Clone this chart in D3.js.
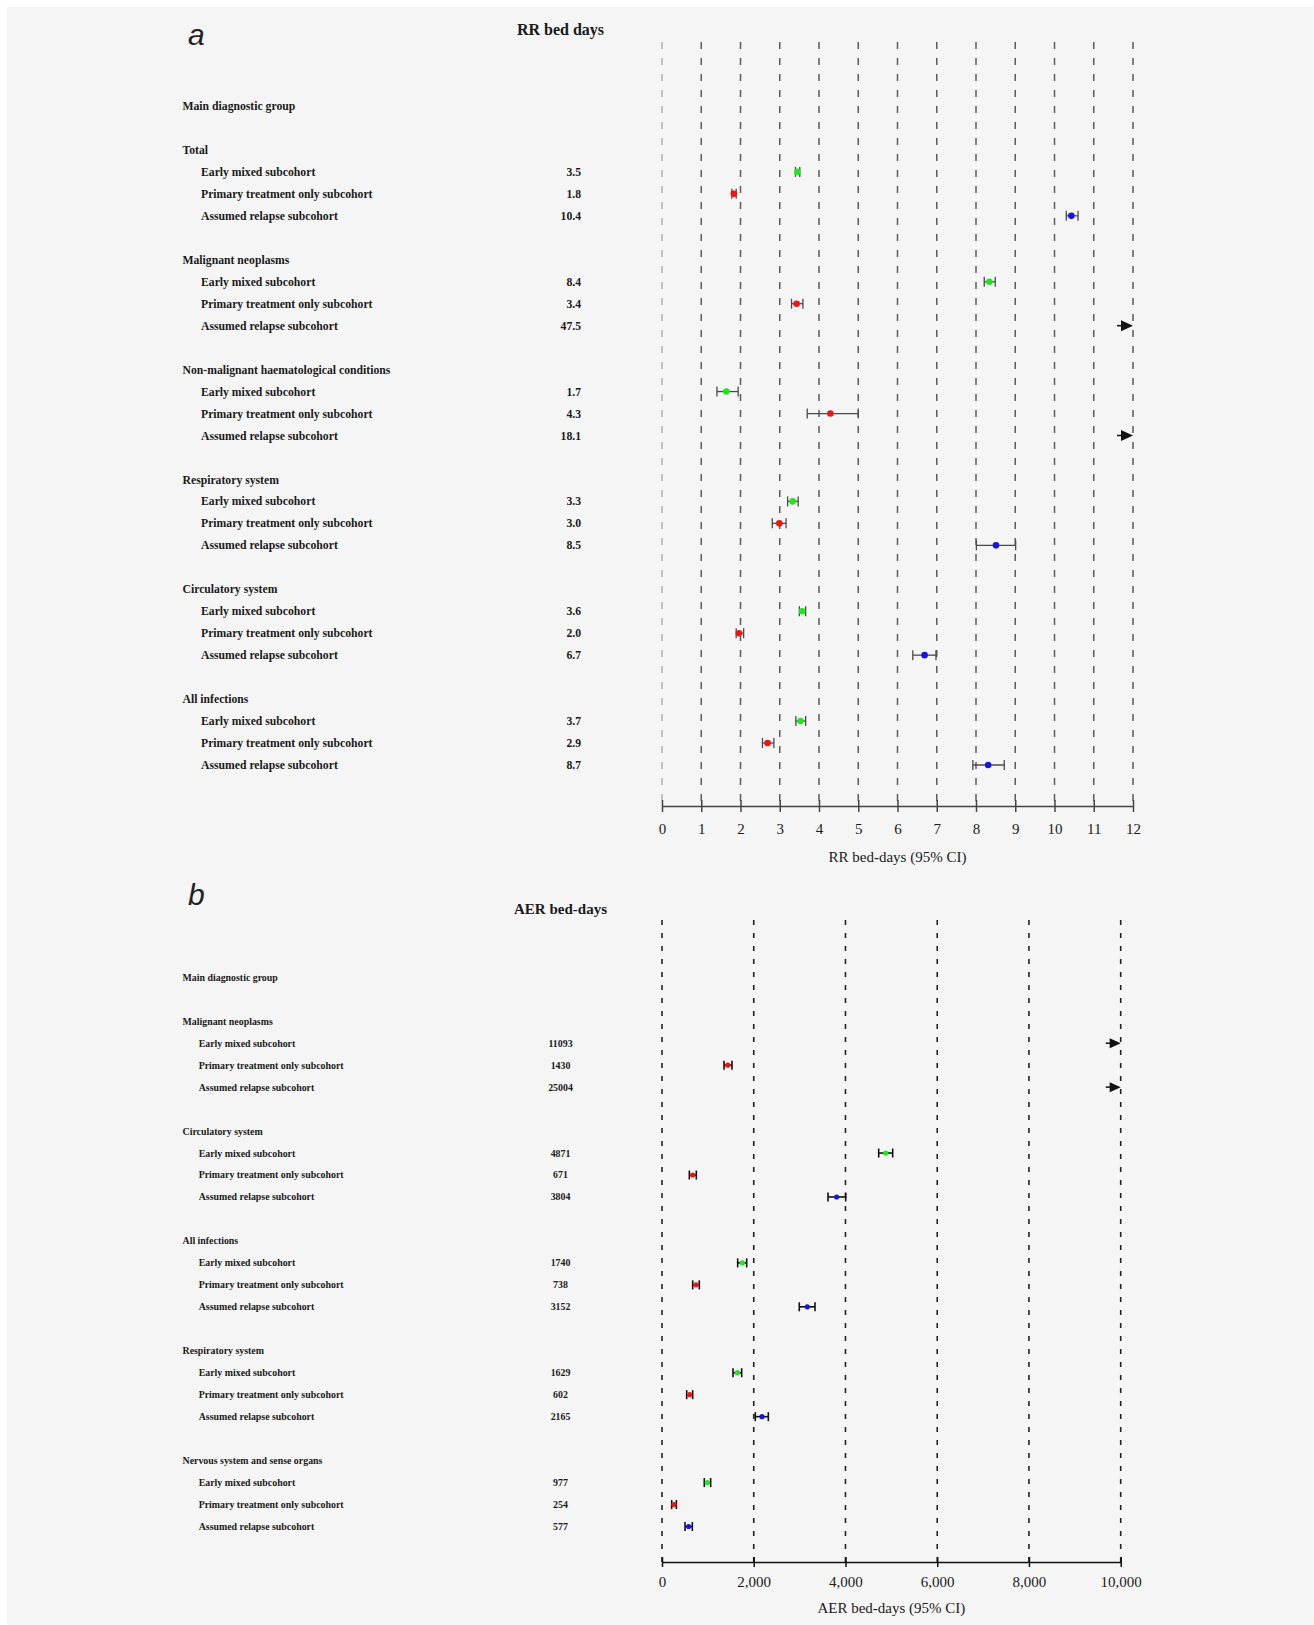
<!DOCTYPE html>
<html>
<head>
<meta charset="utf-8">
<script src="https://cdn.jsdelivr.net/npm/d3@7"></script>
<style>
  body { margin: 0; background: #fff; }
  svg { display: block; }
  text { font-family: "Liberation Serif", "Times New Roman", serif; fill: #1a1a1a; }
</style>
</head>
<body>
<div id="chart"></div>
<script>
// shared row labels / colours
var subcohorts = ["Early mixed subcohort", "Primary treatment only subcohort", "Assumed relapse subcohort"];
var subColors = ["#1fe61f", "#ee1515", "#1515dd"];

// Panel a: RR bed days
var rrGroups = ["Total", "Malignant neoplasms", "Non-malignant haematological conditions",
  "Respiratory system", "Circulatory system", "All infections"];
var rrLabels = [["3.5", "1.8", "10.4"], ["8.4", "3.4", "47.5"], ["1.7", "4.3", "18.1"],
  ["3.3", "3.0", "8.5"], ["3.6", "2.0", "6.7"], ["3.7", "2.9", "8.7"]];
var rrEst = [[3.45, 1.83, 10.43], [8.34, 3.43, 47.5], [1.64, 4.29, 18.1],
  [3.33, 2.99, 8.51], [3.57, 1.96, 6.69], [3.53, 2.69, 8.31]];
var rrLow = [[3.40, 1.78, 10.30], [8.21, 3.30, null], [1.40, 3.70, null],
  [3.20, 2.81, 8.01], [3.50, 1.89, 6.39], [3.41, 2.56, 7.92]];
var rrHigh = [[3.51, 1.89, 10.60], [8.49, 3.59, null], [1.94, 5.00, null],
  [3.47, 3.16, 9.01], [3.66, 2.08, 6.98], [3.66, 2.85, 8.72]];
var rrTicks = d3.range(0, 13);

// Panel b: AER bed-days
var aerGroups = ["Malignant neoplasms", "Circulatory system", "All infections",
  "Respiratory system", "Nervous system and sense organs"];
var aerLabels = [["11093", "1430", "25004"], ["4871", "671", "3804"], ["1740", "738", "3152"],
  ["1629", "602", "2165"], ["977", "254", "577"]];
var aerEst = [[11093, 1432, 25004], [4877, 669, 3808], [1751, 741, 3168],
  [1642, 603, 2180], [988, 262, 581]];
var aerLow = [[null, 1352, null], [4724, 596, 3619], [1650, 669, 2993],
  [1548, 538, 2034], [922, 211, 502]];
var aerHigh = [[null, 1526, null], [5029, 748, 4005], [1846, 813, 3335],
  [1737, 669, 2318], [1061, 313, 661]];
var aerTicks = [0, 2000, 4000, 6000, 8000, 10000];

var W = 1314, H = 1625;
var svg = d3.select("#chart").append("svg").attr("width", W).attr("height", H);
svg.append("rect").attr("x", 7).attr("y", 7).attr("width", W - 7).attr("height", H - 7).attr("fill", "#f5f5f5");

function drawPanel(c) {
  var g = svg.append("g");
  var x = d3.scaleLinear().domain([0, c.ticks[c.ticks.length - 1]]).range([662, c.xRight]);
  var nRows = 2 + c.groups.length * 5 - 1;
  var y = d3.scaleLinear().domain([0, nRows - 1]).range([c.rowTop, c.rowBottom]);

  // panel letter + title
  g.append("text").attr("x", 188).attr("y", c.letterY)
    .style("font-family", "'Liberation Sans', Arial, sans-serif").style("font-style", "italic")
    .style("font-size", "30px").style("fill", "#222").text(c.letter);
  g.append("text").attr("x", 560.5).attr("y", c.titleY).attr("text-anchor", "middle")
    .style("font-weight", "bold").style("font-size", c.titleSize + "px").text(c.title);

  // dashed reference lines
  g.selectAll("line.grid").data(c.ticks).enter().append("line")
    .attr("x1", d => x(d)).attr("x2", d => x(d))
    .attr("y1", c.gridTop).attr("y2", c.axisY)
    .attr("stroke", (d, i) => i === 0 ? c.gridZero : c.gridColor)
    .attr("stroke-width", c.gridWidth)
    .attr("stroke-dasharray", c.dash);

  // rows
  var rows = [{ text: "Main diagnostic group", idx: 0, head: true }];
  c.groups.forEach(function (grp, gi) {
    var base = 2 + gi * 5;
    rows.push({ text: grp, idx: base, head: true });
    subcohorts.forEach(function (s, si) {
      rows.push({ text: s, idx: base + 1 + si, head: false, gi: gi, si: si });
    });
  });

  g.selectAll("text.row").data(rows).enter().append("text")
    .attr("x", d => d.head ? 182.5 : c.subX)
    .attr("y", d => y(d.idx)).attr("dy", "0.35em")
    .style("font-weight", "bold").style("font-size", c.labelSize + "px")
    .text(d => d.text);

  var pts = rows.filter(d => !d.head);
  g.selectAll("text.val").data(pts).enter().append("text")
    .attr("x", c.valX).attr("y", d => y(d.idx)).attr("dy", "0.35em")
    .attr("text-anchor", c.valAnchor)
    .style("font-weight", "bold").style("font-size", c.labelSize + "px")
    .text(d => c.labels[d.gi][d.si]);

  var maxV = x.domain()[1];
  var inRange = pts.filter(d => c.est[d.gi][d.si] <= maxV);
  var outRange = pts.filter(d => c.est[d.gi][d.si] > maxV);

  var bars = g.selectAll("g.ci").data(inRange).enter().append("g")
    .attr("stroke", c.ciColor).attr("stroke-width", c.ciWidth);
  bars.append("line")
    .attr("x1", d => x(c.low[d.gi][d.si])).attr("x2", d => x(c.high[d.gi][d.si]))
    .attr("y1", d => y(d.idx)).attr("y2", d => y(d.idx));
  bars.append("line")
    .attr("x1", d => x(c.low[d.gi][d.si])).attr("x2", d => x(c.low[d.gi][d.si]))
    .attr("y1", d => y(d.idx) - c.cap).attr("y2", d => y(d.idx) + c.cap);
  bars.append("line")
    .attr("x1", d => x(c.high[d.gi][d.si])).attr("x2", d => x(c.high[d.gi][d.si]))
    .attr("y1", d => y(d.idx) - c.cap).attr("y2", d => y(d.idx) + c.cap);
  g.selectAll("circle.pt").data(inRange).enter().append("circle")
    .attr("cx", d => x(c.est[d.gi][d.si])).attr("cy", d => y(d.idx))
    .attr("r", c.r).attr("fill", d => subColors[d.si]);

  // off-scale estimates: arrow at right edge
  var tip = x.range()[1];
  var arr = g.selectAll("g.arrow").data(outRange).enter().append("g")
    .attr("transform", d => "translate(" + tip + "," + y(d.idx) + ")");
  arr.append("line").attr("x1", -c.arrowLen).attr("x2", -6).attr("y1", 0).attr("y2", 0)
    .attr("stroke", "#111").attr("stroke-width", 1.5);
  arr.append("path").attr("d", "M0,0L" + (-c.arrowHead) + "," + (-c.arrowH) + "L" + (-c.arrowHead) + "," + c.arrowH + "Z")
    .attr("fill", "#111");

  // x axis
  var axis = d3.axisBottom(x).tickValues(c.ticks).tickFormat(c.fmt)
    .tickSize(c.tick).tickSizeOuter(0).tickPadding(c.tickPad);
  var ax = g.append("g").attr("transform", "translate(0," + c.axisY + ")").call(axis);
  ax.select(".domain").attr("stroke", c.axisColor).attr("stroke-width", 1.5);
  ax.selectAll(".tick line").attr("y1", -c.tick).attr("stroke", c.axisColor).attr("stroke-width", 1.5);
  ax.selectAll(".tick text").style("font-family", "'Liberation Serif', serif")
    .style("font-size", "15px").attr("fill", "#1a1a1a");
  g.append("text").attr("x", (x.range()[0] + x.range()[1]) / 2).attr("y", c.axisTitleY)
    .attr("text-anchor", "middle").style("font-size", "15px").text(c.axisTitle);
}

drawPanel({
  letter: "a", letterY: 45, title: "RR bed days", titleY: 35, titleSize: 16,
  groups: rrGroups, labels: rrLabels, est: rrEst, low: rrLow, high: rrHigh,
  ticks: rrTicks, fmt: d3.format("d"), xRight: 1133,
  rowTop: 106, rowBottom: 765, subX: 201, valX: 581, valAnchor: "end", labelSize: 11.7,
  gridTop: 42, axisY: 806, gridColor: "#5c5c5c", gridZero: "#b0b0b0", gridWidth: 1.5, dash: "7,9",
  ciColor: "#4a4a4a", ciWidth: 1.3, cap: 5, r: 3.3,
  arrowLen: 16, arrowHead: 12, arrowH: 5.5,
  tick: 6, tickPad: 11, axisColor: "#444", axisTitleY: 862, axisTitle: "RR bed-days (95% CI)"
});

drawPanel({
  letter: "b", letterY: 905, title: "AER bed-days", titleY: 914, titleSize: 15,
  groups: aerGroups, labels: aerLabels, est: aerEst, low: aerLow, high: aerHigh,
  ticks: aerTicks, fmt: d3.format(","), xRight: 1120.7,
  rowTop: 977.3, rowBottom: 1526.5, subX: 198.7, valX: 560.5, valAnchor: "middle", labelSize: 9.9,
  gridTop: 920, axisY: 1562, gridColor: "#222", gridZero: "#222", gridWidth: 1.6, dash: "5,8",
  ciColor: "#111", ciWidth: 1.6, cap: 4.5, r: 2.6,
  arrowLen: 15, arrowHead: 11, arrowH: 5,
  tick: 5, tickPad: 9, axisColor: "#111", axisTitleY: 1613, axisTitle: "AER bed-days (95% CI)"
});
</script>
</body>
</html>
